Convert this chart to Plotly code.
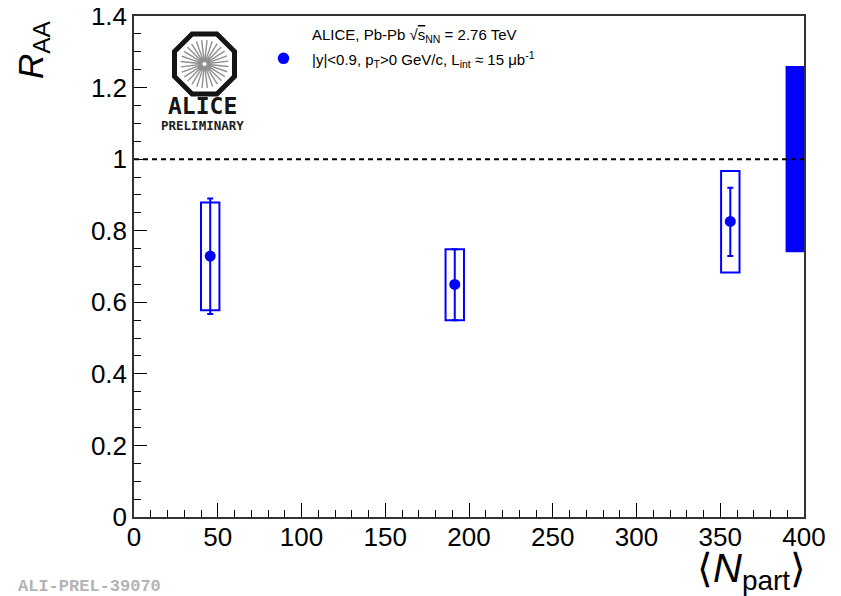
import math
import plotly.graph_objects as go

# ---- data ----
npart = [45.5, 191.5, 356.0]
raa = [0.729, 0.650, 0.826]
stat_hi = [0.890, 0.748, 0.920]
stat_lo = [0.567, 0.550, 0.729]
syst_hi = [0.879, 0.748, 0.967]
syst_lo = [0.578, 0.550, 0.683]
global_unc = 0.26          # normalisation uncertainty around unity
global_x = [389.0, 400.0]  # extent of the global box
reference_level = 1.0
x_ticks = [0, 50, 100, 150, 200, 250, 300, 350, 400]
y_ticks = [0, 0.2, 0.4, 0.6, 0.8, 1.0, 1.2, 1.4]
y_tick_labels = ["0", "0.2", "0.4", "0.6", "0.8", "1", "1.2", "1.4"]

# ---- style ----
BLUE = "#0000ff"
BOX_HALF_WIDTH = 5.5
FONT = "Liberation Sans, Arial, sans-serif"
OFF = 8                      # page body margin
PL, PT, PR_, PB_ = 134, 16, 804, 517   # plot area in page pixels
W, H = 841 - OFF, 596 - OFF
L, T = PL - OFF, PT - OFF
PW, PH = PR_ - PL, PB_ - PT
R = W - L - PW
B = H - T - PH


def px(x):
    return (x - PL) / PW


def py(y):
    return (PB_ - y) / PH


fig = go.Figure()

fig.add_trace(go.Scatter(
    x=npart, y=raa, mode="markers",
    marker=dict(color=BLUE, size=11, symbol="circle"),
    error_y=dict(type="data", symmetric=False,
                 array=[h - v for h, v in zip(stat_hi, raa)],
                 arrayminus=[v - l for v, l in zip(raa, stat_lo)],
                 color=BLUE, thickness=2, width=3),
    showlegend=False, cliponaxis=False,
))

shapes = []
for xv, lo, hi in zip(npart, syst_lo, syst_hi):
    shapes.append(dict(type="rect", xref="x", yref="y",
                       x0=xv - BOX_HALF_WIDTH, x1=xv + BOX_HALF_WIDTH, y0=lo, y1=hi,
                       line=dict(color=BLUE, width=2), fillcolor="rgba(0,0,0,0)"))
shapes.append(dict(type="rect", xref="x", yref="y",
                   x0=global_x[0], x1=global_x[1],
                   y0=reference_level - global_unc, y1=reference_level + global_unc,
                   line=dict(color=BLUE, width=0), fillcolor=BLUE, layer="below"))
shapes.append(dict(type="line", xref="paper", yref="y", x0=0, x1=1,
                   y0=reference_level, y1=reference_level,
                   line=dict(color="black", width=2, dash="5px,4px")))

# legend marker
cx, cy, rr = 283.5, 58.3, 5.8
shapes.append(dict(type="circle", xref="paper", yref="paper",
                   x0=px(cx - rr), x1=px(cx + rr), y0=py(cy + rr), y1=py(cy - rr),
                   fillcolor=BLUE, line=dict(color=BLUE, width=0)))

# ALICE logo: octagon + spokes
ocx, ocy = 204.5, 64.0
apothem = 30.0
Rv = apothem / math.cos(math.radians(22.5))
pts = []
for k in range(8):
    a = math.radians(22.5 + 45 * k)
    pts.append((ocx + Rv * math.cos(a), ocy + Rv * math.sin(a)))
path = "M " + " L ".join(f"{px(x):.5f},{py(y):.5f}" for x, y in pts) + " Z"
shapes.append(dict(type="path", xref="paper", yref="paper", path=path,
                   line=dict(color="#151515", width=5)))
spk = []
for k in range(28):
    a = math.radians(k * 360 / 28 + 6)
    x0, y0 = ocx + 2 * math.cos(a), ocy + 2 * math.sin(a)
    x1, y1 = ocx + 24 * math.cos(a), ocy + 24 * math.sin(a)
    spk.append(f"M {px(x0):.5f},{py(y0):.5f} L {px(x1):.5f},{py(y1):.5f}")
shapes.append(dict(type="path", xref="paper", yref="paper", path=" ".join(spk),
                   line=dict(color="#909090", width=1.4)))

annotations = [
    dict(text="<b>ALICE</b>", x=px(202), y=py(106), xref="paper", yref="paper",
         showarrow=False, xanchor="center", yanchor="middle",
         font=dict(family="DejaVu Sans Mono", size=23, color="#151515")),
    dict(text="<b>PRELIMINARY</b>", x=px(202), y=py(125.5), xref="paper", yref="paper",
         showarrow=False, xanchor="center", yanchor="middle",
         font=dict(family="DejaVu Sans Mono", size=12.5, color="#222222")),
    dict(text="ALICE, Pb-Pb √<span style='text-decoration:overline'>s</span><sub>NN</sub> = 2.76 TeV",
         x=px(310), y=py(35.5),
         xref="paper", yref="paper", showarrow=False, xanchor="left", yanchor="middle",
         font=dict(family=FONT, size=15, color="black")),
    dict(text="|y|&lt;0.9, p<sub>T</sub>&gt;0 GeV/c, L<sub>int</sub> ≈ 15 μb<sup>-1</sup>",
         x=px(310), y=py(60), xref="paper", yref="paper", showarrow=False,
         xanchor="left", yanchor="middle",
         font=dict(family=FONT, size=15, color="black")),
    dict(text="<i>R</i><sub>AA</sub>", x=px(33), y=py(50), xref="paper", yref="paper",
         showarrow=False, textangle=-90, xanchor="center", yanchor="middle",
         font=dict(family=FONT, size=35, color="black")),
    dict(text="⟨<i>N</i><sub>part</sub>⟩", x=px(808), y=py(571), xref="paper", yref="paper",
         showarrow=False, xanchor="right", yanchor="middle",
         font=dict(family=FONT, size=40, color="black")),
    dict(text="<b>ALI-PREL-39070</b>", x=px(16), y=py(586), xref="paper", yref="paper",
         showarrow=False, xanchor="left", yanchor="middle",
         font=dict(family="Liberation Mono", size=17, color="#b4b4b4")),
]

fig.update_layout(
    width=W, height=H, autosize=False,
    margin=dict(l=L, r=R, t=T, b=B, pad=0, autoexpand=False),
    paper_bgcolor="white", plot_bgcolor="white",
    font=dict(family=FONT, size=26, color="black"),
    shapes=shapes, annotations=annotations, showlegend=False,
)
fig.update_xaxes(range=[0, 400], tickvals=x_ticks, ticktext=[str(v) for v in x_ticks],
                 ticks="inside", ticklen=14, tickwidth=1.2, tickcolor="black",
                 minor=dict(dtick=10, ticks="inside", ticklen=7, tickwidth=1.2, tickcolor="black"),
                 showline=True, linecolor="#333333", linewidth=1.5, mirror=True,
                 showgrid=False, zeroline=False, ticklabelstandoff=-4, automargin=False,
                 ticklabeloverflow="allow",
                 tickfont=dict(size=26, family=FONT))
fig.update_yaxes(range=[0, 1.4], tickvals=y_ticks, ticktext=y_tick_labels,
                 ticks="inside", ticklen=13, tickwidth=1.2, tickcolor="black",
                 minor=dict(dtick=0.05, ticks="inside", ticklen=7, tickwidth=1.2, tickcolor="black"),
                 showline=True, linecolor="#333333", linewidth=1.5, mirror=True,
                 showgrid=False, zeroline=False, ticklabelstandoff=0, automargin=False,
                 ticklabeloverflow="allow",
                 tickfont=dict(size=26, family=FONT))

fig.write_html("out.html")
